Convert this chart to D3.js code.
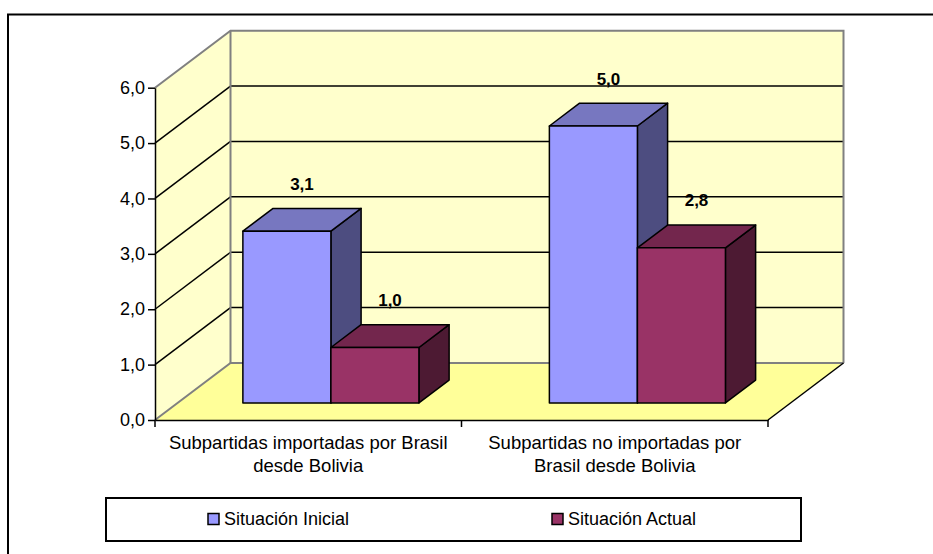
<!DOCTYPE html>
<html>
<head>
<meta charset="utf-8">
<script src="https://cdn.jsdelivr.net/npm/d3@7"></script>
<style>
  body { margin: 0; background: #fff; }
  svg { display: block; font-family: "Liberation Sans", Arial, sans-serif; }
  svg text { font-family: "Liberation Sans", Arial, sans-serif; }
</style>
</head>
<body>
<svg id="canvas"></svg>
<script>
// chart data
const categories = ['Subpartidas importadas por Brasil desde Bolivia', 'Subpartidas no importadas por Brasil desde Bolivia'];
const categoryLines = [['Subpartidas importadas por Brasil', 'desde Bolivia'], ['Subpartidas no importadas por', 'Brasil desde Bolivia']];
const seriesNames = ['Situación Inicial', 'Situación Actual'];
const inicialValues = [3.1, 5.0];
const actualValues = [1.0, 2.8];
const yTicks = [0, 1, 2, 3, 4, 5, 6];

const w = 933;
const h = 554;
const plotLeft = 155, plotRight = 768, plotBottom = 420, plotTop = 87.7;
const DX = 75.5, DY = 57; // depth offset of back wall
const zFront = 0.3, zBack = 0.7; // bar depth inside the box

const colors = {
	'Situación Inicial': { front: '#9999ff', top: '#7777c0', side: '#4d4d80' },
	'Situación Actual': { front: '#993366', top: '#73264d', side: '#4d1a33' }
};

const svg = d3.select('#canvas').attr('width', w).attr('height', h);

const y = d3.scaleLinear().domain([0, 6]).range([plotBottom, plotTop]);
const x = d3.scaleBand().domain(categories).range([plotLeft, plotRight]).padding(0);
const xs = d3.scaleBand().domain(seriesNames).range([0, x.bandwidth()]).paddingInner(0).paddingOuter(0.741);

const fmt = (v) => d3.format('.1f')(v).replace('.', ',');

// outer frame
svg.append('rect').attr('x', 8).attr('y', 14.5).attr('width', 960).attr('height', 600)
	.attr('fill', 'none').attr('stroke', '#000').attr('stroke-width', 2);

// side wall + back wall
const pt = (p) => p.join(',');
svg.append('polygon')
	.attr('points', [[plotLeft, y(0)], [plotLeft, y(6)], [plotLeft + DX, y(6) - DY], [plotLeft + DX, y(0) - DY]].map(pt).join(' '))
	.attr('fill', '#ffffcc');
svg.append('polygon')
	.attr('points', [[plotLeft + DX, y(6) - DY], [plotRight + DX, y(6) - DY], [plotRight + DX, y(0) - DY], [plotLeft + DX, y(0) - DY]].map(pt).join(' '))
	.attr('fill', '#ffffcc');
// floor
svg.append('polygon')
	.attr('points', [[plotLeft, y(0)], [plotRight, y(0)], [plotRight + DX, y(0) - DY], [plotLeft + DX, y(0) - DY]].map(pt).join(' '))
	.attr('fill', '#ffff99');

// gridlines
const grid = svg.append('g').attr('stroke', '#000').attr('stroke-width', 1.5);
yTicks.filter((v) => v > 0 && v < 6).forEach((v) => {
	grid.append('line').attr('x1', plotLeft).attr('y1', y(v)).attr('x2', plotLeft + DX).attr('y2', y(v) - DY);
	grid.append('line').attr('x1', plotLeft + DX).attr('y1', y(v) - DY).attr('x2', plotRight + DX).attr('y2', y(v) - DY);
});

// wall edges (grey)
const edges = svg.append('g').attr('stroke', '#808080').attr('stroke-width', 2).attr('fill', 'none');
edges.append('polyline')
	.attr('points', [[plotLeft, y(6)], [plotLeft + DX, y(6) - DY], [plotRight + DX, y(6) - DY], [plotRight + DX, y(0) - DY]].map(pt).join(' '));
edges.append('line').attr('x1', plotLeft + DX).attr('y1', y(6) - DY).attr('x2', plotLeft + DX).attr('y2', y(0) - DY);
edges.append('polyline')
	.attr('points', [[plotLeft, y(0)], [plotLeft + DX, y(0) - DY], [plotRight + DX, y(0) - DY]].map(pt).join(' '));
svg.append('line').attr('x1', plotRight).attr('y1', y(0)).attr('x2', plotRight + DX).attr('y2', y(0) - DY)
	.attr('stroke', '#000').attr('stroke-width', 1.5);

// bars
const bars = [];
categories.forEach((c, i) => {
	bars.push({ cat: c, series: seriesNames[0], value: inicialValues[i] });
	bars.push({ cat: c, series: seriesNames[1], value: actualValues[i] });
});

const dd = (zBack - zFront) * DX;
const dh = (zBack - zFront) * DY;
const bw = xs.bandwidth();

const barG = svg.selectAll('g.bar').data(bars).enter().append('g').attr('class', 'bar')
	.attr('stroke', '#000').attr('stroke-width', 1.5).attr('stroke-linejoin', 'round');

barG.each(function (d) {
	const g = d3.select(this);
	const fx = x(d.cat) + xs(d.series) + zFront * DX;
	const ty = y(d.value) - zFront * DY;
	const by = y(0) - zFront * DY;
	const col = colors[d.series];
	g.append('polygon')
		.attr('points', [[fx + bw, ty], [fx + bw + dd, ty - dh], [fx + bw + dd, by - dh], [fx + bw, by]].map(pt).join(' '))
		.attr('fill', col.side);
	g.append('polygon')
		.attr('points', [[fx, ty], [fx + bw, ty], [fx + bw + dd, ty - dh], [fx + dd, ty - dh]].map(pt).join(' '))
		.attr('fill', col.top);
	g.append('rect').attr('x', fx).attr('y', ty).attr('width', bw).attr('height', by - ty)
		.attr('fill', col.front);
});

// value labels
svg.selectAll('text.val').data(bars).enter().append('text').attr('class', 'val')
	.attr('x', (d) => x(d.cat) + xs(d.series) + zFront * DX + bw / 2 + dd / 2)
	.attr('y', (d) => y(d.value) - zFront * DY - dh / 2 - 36)
	.attr('dy', '0.35em')
	.attr('text-anchor', 'middle')
	.attr('font-size', 17).attr('font-weight', 'bold')
	.text((d) => fmt(d.value));

// y axis
const yAxis = d3.axisLeft(y).tickValues(yTicks).tickFormat(fmt).tickSize(7).tickSizeOuter(0).tickPadding(3);
const yG = svg.append('g').attr('transform', 'translate(' + plotLeft + ',0)').call(yAxis);
yG.attr('font-family', null);
yG.select('.domain').attr('stroke-width', 1.5);
yG.selectAll('.tick line').attr('stroke-width', 1.5);
yG.selectAll('.tick text').attr('font-size', 18).attr('fill', '#000');

// x axis
const xAxis = d3.axisBottom(x).tickSize(0).tickFormat('').tickSizeOuter(0);
const xG = svg.append('g').attr('transform', 'translate(0,' + plotBottom + ')').call(xAxis);
xG.select('.domain').attr('stroke-width', 1.5);
const bounds = [plotLeft].concat(categories.map((c) => x(c) + x.bandwidth()));
xG.selectAll('line.bt').data(bounds).enter().append('line').attr('class', 'bt')
	.attr('x1', (d) => d).attr('x2', (d) => d).attr('y1', 0).attr('y2', 7)
	.attr('stroke', '#000').attr('stroke-width', 1.5);

categories.forEach((c, i) => {
	const t = svg.append('text')
		.attr('x', x(c) + x.bandwidth() / 2)
		.attr('y', plotBottom + 29)
		.attr('text-anchor', 'middle')
		.attr('font-size', 18.5);
	categoryLines[i].forEach((line, j) => {
		t.append('tspan').attr('x', x(c) + x.bandwidth() / 2).attr('dy', j === 0 ? 0 : 23).text(line);
	});
});

// legend
const legend = svg.append('g');
legend.append('rect').attr('x', 106).attr('y', 498).attr('width', 695).attr('height', 43)
	.attr('fill', '#fff').attr('stroke', '#000').attr('stroke-width', 2);
const legendX = [208, 552];
seriesNames.forEach((s, i) => {
	legend.append('rect').attr('x', legendX[i]).attr('y', 513.5).attr('width', 11).attr('height', 11)
		.attr('fill', colors[s].front).attr('stroke', '#000').attr('stroke-width', 1.5);
	legend.append('text').attr('x', legendX[i] + 16).attr('y', 519).attr('dy', '0.35em')
		.attr('font-size', 18).text(s);
});
</script>
</body>
</html>
